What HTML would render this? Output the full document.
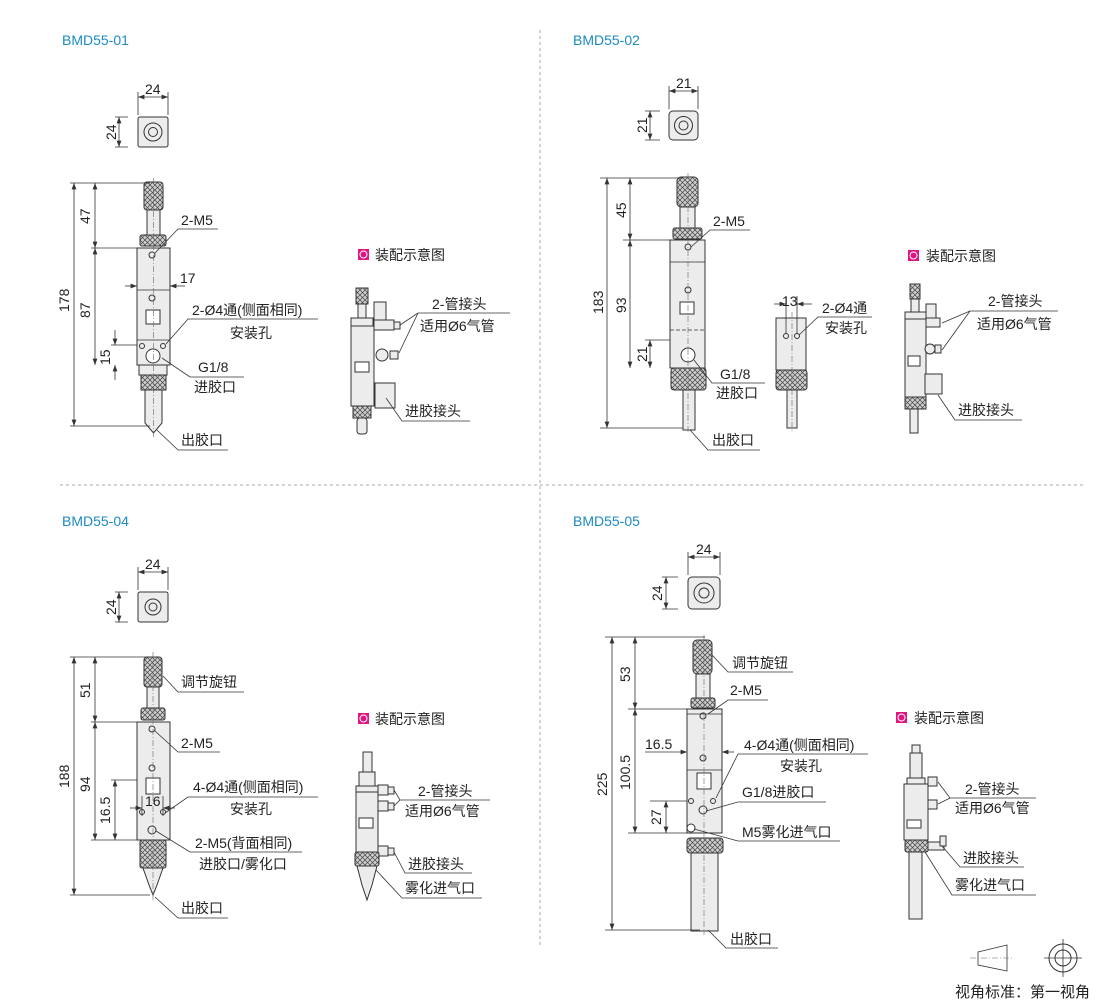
<!DOCTYPE html>
<html><head><meta charset="utf-8"><style>
html,body{margin:0;padding:0;background:#fff;}
svg{display:block;font-family:"Liberation Sans","Noto Sans CJK SC",sans-serif;}
.t{fill:#1b8bc3;font-size:14px;}
.l{fill:#222;font-size:14px;}
.d{fill:#222;font-size:14px;}
.o{fill:#ececec;stroke:#333;stroke-width:1;}
.k{fill:url(#kn);stroke:#333;stroke-width:1;}
.ln{stroke:#333;stroke-width:0.8;fill:none;}
.c{stroke:#666;stroke-width:0.6;stroke-dasharray:6 2 1 2;fill:none;}
</style></head><body>
<svg width="1110" height="1002" viewBox="0 0 1110 1002" xmlns="http://www.w3.org/2000/svg">
<defs>
<pattern id="kn" width="5" height="5" patternUnits="userSpaceOnUse">
<rect width="5" height="5" fill="#cfcfcf"/><path d="M0 0L5 5M5 0L0 5" stroke="#444" stroke-width="0.7"/></pattern>
<marker id="a" markerWidth="8" markerHeight="6" refX="8" refY="3" orient="auto-start-reverse"><path d="M0 0L8 3L0 6z" fill="#333"/></marker>
</defs>
<!-- dividers -->
<line x1="540" y1="30" x2="540" y2="945" stroke="#aaa" stroke-dasharray="3 3"/>
<line x1="60" y1="485" x2="1085" y2="485" stroke="#aaa" stroke-dasharray="3 3"/>
<text class="t" x="62" y="45">BMD55-01</text>
<text class="t" x="573" y="45">BMD55-02</text>
<text class="t" x="62" y="526">BMD55-04</text>
<text class="t" x="573" y="526">BMD55-05</text>

<!-- ========== PANEL 1 ========== -->
<rect class="o" x="138" y="117" width="30" height="30" rx="2"/>
<circle cx="153" cy="132" r="9" fill="none" stroke="#333"/><circle cx="153" cy="132" r="4.5" fill="none" stroke="#333"/>
<path class="ln" d="M138 115V92M168 115V92M128 117H115M128 147H115"/>
<line class="ln" x1="138" y1="97" x2="168" y2="97" marker-start="url(#a)" marker-end="url(#a)"/>
<line class="ln" x1="119" y1="117" x2="119" y2="147" marker-start="url(#a)" marker-end="url(#a)"/>
<text class="d" x="145" y="94">24</text>
<text class="d" transform="translate(116,140) rotate(-90)">24</text>
<!-- device -->
<rect class="k" x="144" y="182" width="19" height="28" rx="3"/>
<rect class="o" x="147" y="210" width="13" height="25"/>
<rect class="k" x="140" y="235" width="26" height="11" rx="2"/>
<rect class="o" x="137" y="248" width="33" height="117"/>
<line class="ln" x1="137" y1="290" x2="170" y2="290"/><line class="ln" x1="137" y1="340" x2="170" y2="340"/>
<circle cx="152" cy="255" r="3" fill="none" stroke="#333"/>
<circle cx="152" cy="298" r="3" fill="none" stroke="#333"/>
<rect x="146" y="310" width="14" height="14" fill="#fff" stroke="#333"/>
<circle cx="142" cy="346" r="2.5" fill="none" stroke="#333"/><circle cx="163" cy="346" r="2.5" fill="none" stroke="#333"/>
<circle cx="153" cy="356" r="7" fill="#fff" stroke="#333"/>
<rect class="o" x="139" y="365" width="28" height="10"/>
<rect class="k" x="141" y="375" width="25" height="15"/>
<path class="o" d="M145 390H162V423L153.5 433L145 423Z"/>
<line class="c" x1="153.5" y1="178" x2="153.5" y2="438"/>
<path class="ln" d="M70 183H150M91 248H137M111 345H137M70 426H150"/>
<line class="ln" x1="74" y1="183" x2="74" y2="426" marker-start="url(#a)" marker-end="url(#a)"/>
<line class="ln" x1="95" y1="183" x2="95" y2="248" marker-start="url(#a)" marker-end="url(#a)"/>
<line class="ln" x1="95" y1="248" x2="95" y2="365" marker-start="url(#a)" marker-end="url(#a)"/>
<line class="ln" x1="115" y1="330" x2="115" y2="345" marker-end="url(#a)"/>
<line class="ln" x1="115" y1="380" x2="115" y2="365" marker-end="url(#a)"/>
<text class="d" transform="translate(69,312) rotate(-90)">178</text>
<text class="d" transform="translate(90,224) rotate(-90)">47</text>
<text class="d" transform="translate(90,318) rotate(-90)">87</text>
<text class="d" transform="translate(110,365) rotate(-90)">15</text>
<line class="ln" x1="125" y1="286" x2="137" y2="286" marker-end="url(#a)"/><line class="ln" x1="185" y1="286" x2="170" y2="286" marker-end="url(#a)"/>
<text class="d" x="180" y="283">17</text>
<text class="l" x="181" y="225">2-M5</text><path class="ln" d="M218 229H178L155 253"/>
<text class="l" x="192" y="315">2-Ø4通(侧面相同)</text><text class="l" x="230" y="338">安装孔</text>
<path class="ln" d="M318 319H188L166 344"/>
<text class="l" x="198" y="372">G1/8</text><text class="l" x="194" y="392">进胶口</text>
<path class="ln" d="M244 377H190L162 358"/>
<text class="l" x="181" y="445">出胶口</text><path class="ln" d="M228 450H178L157 430"/>
<!-- assembly 1 -->
<rect x="358" y="249" width="11" height="11" fill="#e0157f"/><circle cx="363.5" cy="254.5" r="3.5" fill="none" stroke="#fff"/>
<text class="l" x="375" y="260">装配示意图</text>
<rect class="k" x="356" y="288" width="12" height="16"/><rect class="o" x="358" y="304" width="8" height="14"/>
<rect class="o" x="351" y="318" width="22" height="8"/>
<rect class="o" x="351" y="326" width="23" height="80"/>
<rect class="o" x="374" y="302" width="12" height="18"/><rect class="o" x="374" y="320" width="20" height="10"/><rect class="o" x="394" y="322" width="6" height="7"/>
<circle cx="382" cy="355" r="6" class="o"/><rect class="o" x="390" y="351" width="8" height="8"/>
<rect x="355" y="362" width="14" height="10" fill="#fff" stroke="#333"/>
<rect class="o" x="375" y="383" width="20" height="25"/>
<rect class="k" x="353" y="406" width="18" height="12"/><rect class="o" x="357" y="418" width="10" height="16" rx="3"/>
<text class="l" x="432" y="309">2-管接头</text><text class="l" x="420" y="331">适用Ø6气管</text>
<path class="ln" d="M510 313H418L400 325M418 313L399 353"/>
<text class="l" x="405" y="416">进胶接头</text><path class="ln" d="M470 421H402L386 398"/>

<!-- ========== PANEL 2 ========== -->
<rect class="o" x="669" y="111" width="29" height="29" rx="4"/>
<circle cx="683.5" cy="125.5" r="9" fill="none" stroke="#333"/><circle cx="683.5" cy="125.5" r="4.5" fill="none" stroke="#333"/>
<path class="ln" d="M669 109V86M698 109V86M660 111H645M660 140H645"/>
<line class="ln" x1="669" y1="91" x2="698" y2="91" marker-start="url(#a)" marker-end="url(#a)"/>
<line class="ln" x1="650" y1="111" x2="650" y2="140" marker-start="url(#a)" marker-end="url(#a)"/>
<text class="d" x="676" y="88">21</text>
<text class="d" transform="translate(647,133) rotate(-90)">21</text>
<rect class="k" x="677" y="177" width="21" height="30" rx="4"/>
<rect class="o" x="680" y="207" width="15" height="21"/>
<rect class="k" x="673" y="228" width="29" height="11" rx="2"/>
<rect class="o" x="670" y="240" width="35" height="128"/>
<line class="ln" x1="670" y1="262" x2="705" y2="262"/><line class="ln" x1="670" y1="330" x2="705" y2="330" stroke-dasharray="4 2"/>
<circle cx="688" cy="247" r="3" fill="none" stroke="#333"/><circle cx="688" cy="290" r="3" fill="none" stroke="#333"/>
<rect x="680" y="302" width="14" height="12" fill="#fff" stroke="#333"/>
<circle cx="688" cy="355" r="7" fill="#fff" stroke="#333"/>
<rect class="k" x="671" y="368" width="35" height="22" rx="3"/>
<rect class="o" x="683" y="390" width="12" height="40"/>
<line class="c" x1="688" y1="173" x2="688" y2="434"/>
<path class="ln" d="M600 178H683M623 240H670M645 340H670M600 428H683"/>
<line class="ln" x1="607" y1="178" x2="607" y2="428" marker-start="url(#a)" marker-end="url(#a)"/>
<line class="ln" x1="630" y1="178" x2="630" y2="240" marker-start="url(#a)" marker-end="url(#a)"/>
<line class="ln" x1="630" y1="240" x2="630" y2="368" marker-start="url(#a)" marker-end="url(#a)"/>
<line class="ln" x1="650" y1="340" x2="650" y2="368" marker-start="url(#a)" marker-end="url(#a)"/>
<text class="d" transform="translate(603,314) rotate(-90)">183</text>
<text class="d" transform="translate(626,218) rotate(-90)">45</text>
<text class="d" transform="translate(626,313) rotate(-90)">93</text>
<text class="d" transform="translate(647,362) rotate(-90)">21</text>
<text class="l" x="713" y="226">2-M5</text><path class="ln" d="M750 230H710L691 247"/>
<text class="l" x="720" y="379">G1/8</text><text class="l" x="716" y="398">进胶口</text><path class="ln" d="M765 383H712L694 360"/>
<text class="l" x="712" y="445">出胶口</text><path class="ln" d="M760 450H708L690 430"/>
<!-- side view -->
<rect class="o" x="776" y="318" width="30" height="52"/>
<circle cx="786" cy="336" r="2.5" fill="none" stroke="#333"/><circle cx="797" cy="336" r="2.5" fill="none" stroke="#333"/>
<rect class="k" x="776" y="370" width="31" height="20" rx="3"/>
<rect class="o" x="787" y="390" width="10" height="38"/>
<line class="c" x1="792" y1="312" x2="792" y2="432"/>
<path class="ln" d="M786 296V334M797 296V334"/>
<line class="ln" x1="774" y1="304" x2="786" y2="304" marker-end="url(#a)"/><line class="ln" x1="812" y1="304" x2="797" y2="304" marker-end="url(#a)"/>
<text class="d" x="782" y="306">13</text>
<text class="l" x="822" y="313">2-Ø4通</text><text class="l" x="825" y="333">安装孔</text><path class="ln" d="M872 317H818L799 335"/>
<!-- assembly 2 -->
<rect x="908" y="250" width="11" height="11" fill="#e0157f"/><circle cx="913.5" cy="255.5" r="3.5" fill="none" stroke="#fff"/>
<text class="l" x="926" y="261">装配示意图</text>
<rect class="k" x="910" y="284" width="10" height="15"/><rect class="o" x="911" y="299" width="8" height="13"/>
<rect class="o" x="905" y="312" width="21" height="7"/>
<rect class="o" x="905" y="319" width="21" height="78"/>
<rect class="o" x="926" y="304" width="10" height="14"/><rect class="o" x="926" y="318" width="14" height="9"/>
<circle cx="930" cy="349" r="5" class="o"/><rect class="o" x="935" y="345" width="6" height="8"/>
<rect x="908" y="356" width="12" height="10" fill="#fff" stroke="#333"/>
<rect class="o" x="925" y="374" width="17" height="20"/>
<rect class="k" x="905" y="397" width="21" height="12"/><rect class="o" x="910" y="409" width="8" height="24"/>
<text class="l" x="988" y="306">2-管接头</text><text class="l" x="977" y="329">适用Ø6气管</text>
<path class="ln" d="M1058 311H970L942 323M970 311L942 350"/>
<text class="l" x="958" y="415">进胶接头</text><path class="ln" d="M1022 420H955L938 395"/>

<!-- ========== PANEL 3 ========== -->
<rect class="o" x="138" y="592" width="30" height="30" rx="2"/>
<circle cx="153" cy="607" r="8" fill="none" stroke="#333"/><circle cx="153" cy="607" r="4" fill="none" stroke="#333"/>
<path class="ln" d="M138 590V567M168 590V567M128 592H115M128 622H115"/>
<line class="ln" x1="138" y1="572" x2="168" y2="572" marker-start="url(#a)" marker-end="url(#a)"/>
<line class="ln" x1="119" y1="592" x2="119" y2="622" marker-start="url(#a)" marker-end="url(#a)"/>
<text class="d" x="145" y="569">24</text>
<text class="d" transform="translate(116,615) rotate(-90)">24</text>
<rect class="k" x="144" y="657" width="18" height="30" rx="3"/>
<rect class="o" x="147" y="687" width="12" height="21"/>
<rect class="k" x="141" y="708" width="24" height="12" rx="2"/>
<rect class="o" x="137" y="722" width="33" height="118"/>
<circle cx="152" cy="729" r="3" fill="none" stroke="#333"/><circle cx="152" cy="768" r="3" fill="none" stroke="#333"/>
<rect x="146" y="778" width="14" height="16" fill="#fff" stroke="#333"/>
<circle cx="142" cy="812" r="2.5" fill="none" stroke="#333"/><circle cx="163" cy="812" r="2.5" fill="none" stroke="#333"/>
<circle cx="152" cy="830" r="4" fill="none" stroke="#333"/>
<rect class="k" x="140" y="840" width="26" height="28" rx="2"/>
<path class="o" d="M143 868H163L157 885L153 895L149 885Z"/>
<line class="c" x1="153" y1="652" x2="153" y2="900"/>
<path class="ln" d="M70 657H150M91 722H137M111 780H137M91 840H137M70 895H150"/>
<line class="ln" x1="74" y1="657" x2="74" y2="895" marker-start="url(#a)" marker-end="url(#a)"/>
<line class="ln" x1="95" y1="657" x2="95" y2="722" marker-start="url(#a)" marker-end="url(#a)"/>
<line class="ln" x1="95" y1="722" x2="95" y2="840" marker-start="url(#a)" marker-end="url(#a)"/>
<line class="ln" x1="115" y1="780" x2="115" y2="840" marker-start="url(#a)" marker-end="url(#a)"/>
<text class="d" transform="translate(69,788) rotate(-90)">188</text>
<text class="d" transform="translate(90,698) rotate(-90)">51</text>
<text class="d" transform="translate(90,792) rotate(-90)">94</text>
<text class="d" transform="translate(110,824) rotate(-90)">16.5</text>
<path class="ln" d="M142 796V816M163 796V816"/>
<line class="ln" x1="130" y1="808" x2="142" y2="808" marker-end="url(#a)"/><line class="ln" x1="175" y1="808" x2="163" y2="808" marker-end="url(#a)"/>
<text class="d" x="145" y="806">16</text>
<text class="l" x="181" y="687">调节旋钮</text><path class="ln" d="M244 692H178L163 676"/>
<text class="l" x="181" y="748">2-M5</text><path class="ln" d="M220 752H178L155 731"/>
<text class="l" x="193" y="792">4-Ø4通(侧面相同)</text><text class="l" x="230" y="814">安装孔</text><path class="ln" d="M318 797H188L165 813"/>
<text class="l" x="195" y="848">2-M5(背面相同)</text><text class="l" x="199" y="869">进胶口/雾化口</text><path class="ln" d="M302 852H190L156 831"/>
<text class="l" x="181" y="913">出胶口</text><path class="ln" d="M228 918H178L155 897"/>
<!-- assembly 3 -->
<rect x="358" y="713" width="11" height="11" fill="#e0157f"/><circle cx="363.5" cy="718.5" r="3.5" fill="none" stroke="#fff"/>
<text class="l" x="375" y="724">装配示意图</text>
<rect class="o" x="363" y="752" width="9" height="20"/><rect class="o" x="359" y="772" width="16" height="14"/>
<rect class="o" x="356" y="786" width="22" height="6"/>
<rect class="o" x="356" y="792" width="22" height="60"/>
<rect x="359" y="818" width="14" height="10" fill="#fff" stroke="#333"/>
<rect class="o" x="378" y="785" width="10" height="10"/><rect class="o" x="388" y="787" width="6" height="7"/>
<rect class="o" x="378" y="801" width="10" height="10"/><rect class="o" x="388" y="803" width="6" height="7"/>
<rect class="o" x="378" y="846" width="10" height="10"/><rect class="o" x="388" y="848" width="6" height="7"/>
<rect class="k" x="355" y="852" width="24" height="14" rx="2"/>
<path class="o" d="M357 866H377L372 885L367 900L362 885Z"/>
<text class="l" x="418" y="796">2-管接头</text><text class="l" x="405" y="816">适用Ø6气管</text>
<path class="ln" d="M490 800H400L394 790M400 800L394 806"/>
<text class="l" x="408" y="869">进胶接头</text><path class="ln" d="M472 873H405L394 852"/>
<text class="l" x="405" y="893">雾化进气口</text><path class="ln" d="M482 898H402L376 870"/>

<!-- ========== PANEL 4 ========== -->
<rect class="o" x="688" y="577" width="32" height="32" rx="4"/>
<circle cx="704" cy="593" r="10" fill="none" stroke="#333"/><circle cx="704" cy="593" r="5" fill="none" stroke="#333"/>
<path class="ln" d="M688 575V552M720 575V552M678 577H662M678 609H662"/>
<line class="ln" x1="688" y1="557" x2="720" y2="557" marker-start="url(#a)" marker-end="url(#a)"/>
<line class="ln" x1="666" y1="577" x2="666" y2="609" marker-start="url(#a)" marker-end="url(#a)"/>
<text class="d" x="696" y="554">24</text>
<text class="d" transform="translate(662,601) rotate(-90)">24</text>
<rect class="k" x="693" y="640" width="19" height="34" rx="4"/>
<rect class="o" x="696" y="674" width="14" height="24"/>
<rect class="k" x="691" y="698" width="24" height="10" rx="2"/>
<rect class="o" x="687" y="709" width="35" height="124"/>
<line class="ln" x1="687" y1="714" x2="722" y2="714"/><line class="ln" x1="687" y1="770" x2="722" y2="770"/>
<circle cx="703" cy="716" r="3" fill="none" stroke="#333"/><circle cx="703" cy="758" r="3" fill="none" stroke="#333"/>
<rect x="697" y="773" width="14" height="16" fill="#fff" stroke="#333"/>
<circle cx="691" cy="801" r="2.5" fill="none" stroke="#333"/><circle cx="713" cy="801" r="2.5" fill="none" stroke="#333"/>
<circle cx="703" cy="810" r="4" fill="none" stroke="#333"/>
<circle cx="691" cy="828" r="4" fill="#fff" stroke="#333"/>
<rect class="k" x="687" y="838" width="36" height="15" rx="3"/>
<rect class="o" x="691" y="853" width="27" height="78"/>
<line class="c" x1="704" y1="635" x2="704" y2="935"/>
<path class="ln" d="M605 637H705M628 709H687M650 801H687M628 833H687M605 930H700"/>
<line class="ln" x1="612" y1="637" x2="612" y2="930" marker-start="url(#a)" marker-end="url(#a)"/>
<line class="ln" x1="635" y1="637" x2="635" y2="709" marker-start="url(#a)" marker-end="url(#a)"/>
<line class="ln" x1="635" y1="709" x2="635" y2="833" marker-start="url(#a)" marker-end="url(#a)"/>
<line class="ln" x1="666" y1="801" x2="666" y2="833" marker-start="url(#a)" marker-end="url(#a)"/>
<text class="d" transform="translate(607,796) rotate(-90)">225</text>
<text class="d" transform="translate(630,682) rotate(-90)">53</text>
<text class="d" transform="translate(630,790) rotate(-90)">100.5</text>
<text class="d" transform="translate(661,825) rotate(-90)">27</text>
<path class="ln" d="M722 740V775"/>
<line class="ln" x1="645" y1="752" x2="687" y2="752" marker-end="url(#a)"/><line class="ln" x1="734" y1="752" x2="722" y2="752" marker-end="url(#a)"/>
<text class="d" x="645" y="749">16.5</text>
<text class="l" x="732" y="668">调节旋钮</text><path class="ln" d="M793 672H728L712 655"/>
<text class="l" x="730" y="695">2-M5</text><path class="ln" d="M768 700H728L708 714"/>
<text class="l" x="744" y="750">4-Ø4通(侧面相同)</text><text class="l" x="780" y="771">安装孔</text><path class="ln" d="M868 754H738L716 798"/>
<text class="l" x="742" y="797">G1/8进胶口</text><path class="ln" d="M826 802H738L706 811"/>
<text class="l" x="742" y="837">M5雾化进气口</text><path class="ln" d="M840 841H738L694 829"/>
<text class="l" x="730" y="944">出胶口</text><path class="ln" d="M778 948H726L708 930"/>
<!-- assembly 4 -->
<rect x="896" y="712" width="11" height="11" fill="#e0157f"/><circle cx="901.5" cy="717.5" r="3.5" fill="none" stroke="#fff"/>
<text class="l" x="914" y="723">装配示意图</text>
<rect class="o" x="912" y="745" width="8" height="8"/><rect class="o" x="910" y="753" width="12" height="25"/>
<rect class="o" x="907" y="778" width="18" height="6"/>
<rect class="o" x="904" y="784" width="24" height="56"/>
<rect x="907" y="820" width="14" height="8" fill="#fff" stroke="#333"/>
<rect class="o" x="928" y="777" width="9" height="9"/><rect class="o" x="928" y="800" width="9" height="9"/>
<rect class="o" x="928" y="842" width="16" height="8"/><rect class="o" x="940" y="836" width="6" height="10"/>
<rect class="k" x="905" y="840" width="23" height="12" rx="2"/>
<rect class="o" x="909" y="852" width="13" height="67"/>
<text class="l" x="965" y="794">2-管接头</text><text class="l" x="955" y="813">适用Ø6气管</text>
<path class="ln" d="M1036 798H950L938 782M950 798L938 804"/>
<text class="l" x="963" y="863">进胶接头</text><path class="ln" d="M1024 867H960L942 846"/>
<text class="l" x="955" y="890">雾化进气口</text><path class="ln" d="M1036 895H952L925 852"/>

<!-- legend -->
<path class="ln" d="M978 952L1007 945V971L978 965Z" stroke-width="1"/>
<line class="c" x1="970" y1="958" x2="1014" y2="958"/>
<circle cx="1063" cy="958" r="14" fill="none" stroke="#333"/><circle cx="1063" cy="958" r="8" fill="none" stroke="#333"/>
<path class="ln" d="M1044 958H1082M1063 939V977"/>
<text class="l" x="955" y="997" style="font-size:15px">视角标准：第一视角</text>
</svg>
</body></html>
